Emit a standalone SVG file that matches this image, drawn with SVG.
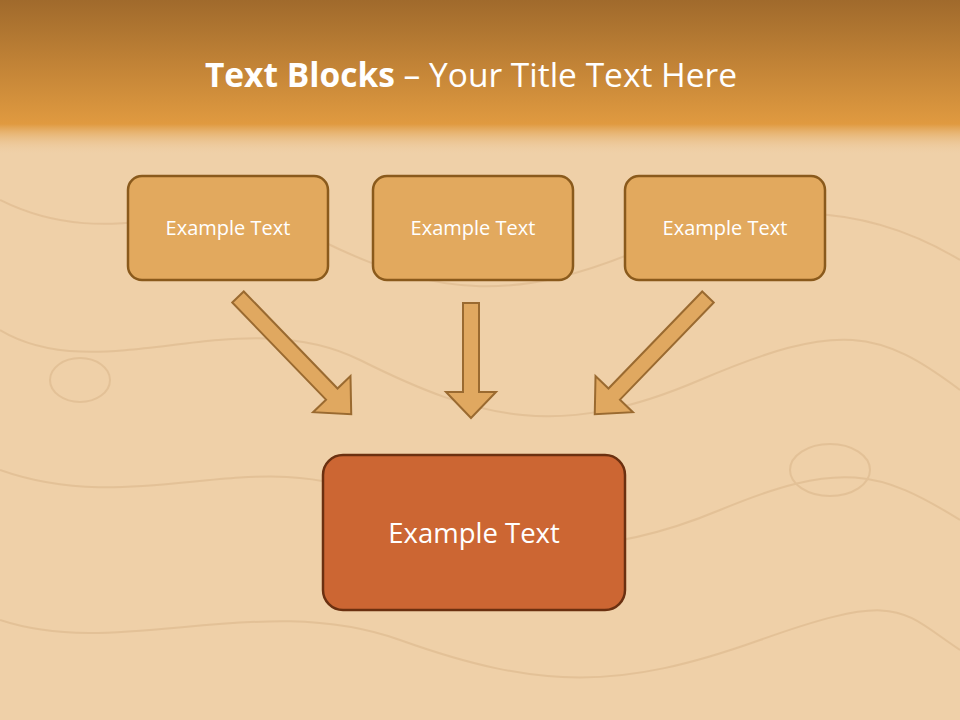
<svg xmlns="http://www.w3.org/2000/svg" width="960" height="720" viewBox="0 0 960 720">
<defs>
<linearGradient id="hdr" x1="0" y1="0" x2="0" y2="1">
<stop offset="0" stop-color="#a06a2c"/>
<stop offset="0.8" stop-color="#e09a40"/>
<stop offset="1" stop-color="#efcfa5" stop-opacity="0"/>
</linearGradient>
<style>
.sm{fill:#e2a95e;stroke:#8a5a1c;stroke-width:2.5}
.bg{fill:#cc6633;stroke:#6b3010;stroke-width:2.5}
.ar{fill:#e0a860;stroke:#9a6a30;stroke-width:2}
.t{font-family:"Open Sans","Liberation Sans",sans-serif;fill:#fff;text-anchor:middle}
.grain{fill:none;stroke:#dcb88c;stroke-width:2;opacity:0.6}
</style>
</defs>
<rect width="960" height="720" fill="#efd0a8"/>
<g class="grain">
<path d="M0 200 C120 260 200 180 320 240 S520 300 640 250 S860 200 960 260"/>
<path d="M0 330 C100 390 240 300 360 360 S560 440 700 380 S880 330 960 390"/>
<path d="M0 470 C140 520 260 440 380 500 S600 560 720 510 S880 470 960 520"/>
<path d="M0 620 C120 660 260 590 400 640 S620 690 760 640 S900 610 960 650"/>
<ellipse cx="80" cy="380" rx="30" ry="22"/>
<ellipse cx="830" cy="470" rx="40" ry="26"/>
</g>
<rect width="960" height="155" fill="url(#hdr)"/>
<text class="t" x="471" y="87" font-size="33.5"><tspan font-weight="bold">Text Blocks</tspan> – Your Title Text Here</text>
<g id="connectors">
<polygon class="ar" transform="translate(238,297) rotate(-44)" points="-8,0 8,0 8,135 26,135 0,163 -26,135 -8,135"/>
<polygon class="ar" points="463,303 479,303 479,392 496,392 471,418 446,392 463,392"/>
<polygon class="ar" transform="translate(708,297) rotate(44)" points="-8,0 8,0 8,135 26,135 0,163 -26,135 -8,135"/>
</g>
<g id="n1"><rect class="sm" x="128" y="176" width="200" height="104" rx="14"/><text class="t" x="228" y="235" font-size="20">Example Text</text></g>
<g id="n2"><rect class="sm" x="373" y="176" width="200" height="104" rx="14"/><text class="t" x="473" y="235" font-size="20">Example Text</text></g>
<g id="n3"><rect class="sm" x="625" y="176" width="200" height="104" rx="14"/><text class="t" x="725" y="235" font-size="20">Example Text</text></g>
<g id="n4"><rect class="bg" x="323" y="455" width="302" height="155" rx="20"/><text class="t" x="474" y="543" font-size="27.5">Example Text</text></g>
</svg>
